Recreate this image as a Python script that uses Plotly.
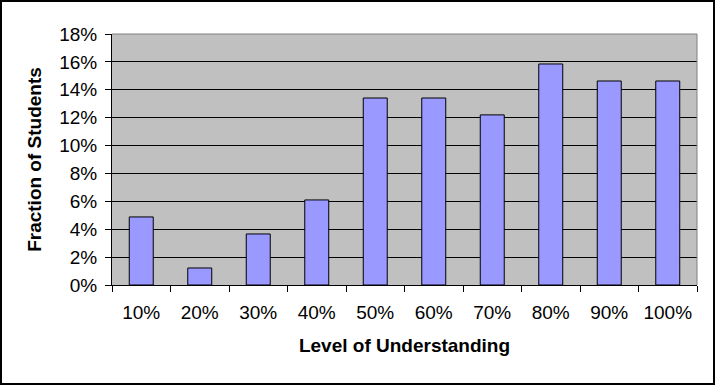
import plotly.graph_objects as go

categories = ["10%", "20%", "30%", "40%", "50%", "60%", "70%", "80%", "90%", "100%"]
fractions = [0.0488, 0.0122, 0.0366, 0.0610, 0.1341, 0.1341, 0.1220, 0.1585, 0.1463, 0.1463]
y_ticks = [0, 0.02, 0.04, 0.06, 0.08, 0.10, 0.12, 0.14, 0.16, 0.18]
y_tick_labels = ["0%", "2%", "4%", "6%", "8%", "10%", "12%", "14%", "16%", "18%"]

W, H = 715, 385
L, R, T, B = 112, 18, 34, 100
pw, ph = W - L - R, H - T - B

fig = go.Figure(go.Bar(
    x=categories, y=fractions,
    marker=dict(color="#9999FF", line=dict(color="black", width=1)),
    width=0.41,
))

font = dict(family="Liberation Sans, Arial, sans-serif", size=18, color="black")

fig.update_layout(
    width=W, height=H,
    margin=dict(l=L, r=R, t=T, b=B),
    paper_bgcolor="white",
    plot_bgcolor="#C0C0C0",
    font=font,
    showlegend=False,
    bargap=0.59,
    xaxis=dict(
        type="category",
        showline=True, linecolor="black", linewidth=1,
        ticks="outside", tickson="boundaries", ticklen=6, tickcolor="black",
        showgrid=False,
        tickfont=dict(size=19),
        ticklabelstandoff=10,
        title=dict(text="<b>Level of Understanding</b>", font=dict(size=19), standoff=16),
        range=[-0.5, 9.5],
    ),
    yaxis=dict(
        range=[0, 0.18],
        tickvals=y_ticks, ticktext=y_tick_labels,
        showline=True, linecolor="black", linewidth=1,
        ticks="outside", ticklen=6, tickcolor="black",
        showgrid=True, gridcolor="black", gridwidth=1,
        zeroline=False,
        tickfont=dict(size=19),
        ticklabelstandoff=4,
        title=dict(text="<b>Fraction of Students</b>", font=dict(size=19), standoff=12),
    ),
    shapes=[
        dict(type="line", xref="paper", yref="paper", x0=0, x1=1, y0=1, y1=1,
             line=dict(color="#808080", width=1)),
        dict(type="line", xref="paper", yref="paper", x0=1, x1=1, y0=0, y1=1,
             line=dict(color="#808080", width=1)),
        dict(type="rect", xref="paper", yref="paper",
             x0=(-L + 1) / pw, x1=(W - L - 1) / pw,
             y0=(-B + 1) / ph, y1=(H - B - 1) / ph,
             line=dict(color="black", width=2), fillcolor="rgba(0,0,0,0)", layer="above"),
    ],
)

fig.write_html("out.html", config={"displayModeBar": False},
               post_script="document.body.style.margin='0';")
